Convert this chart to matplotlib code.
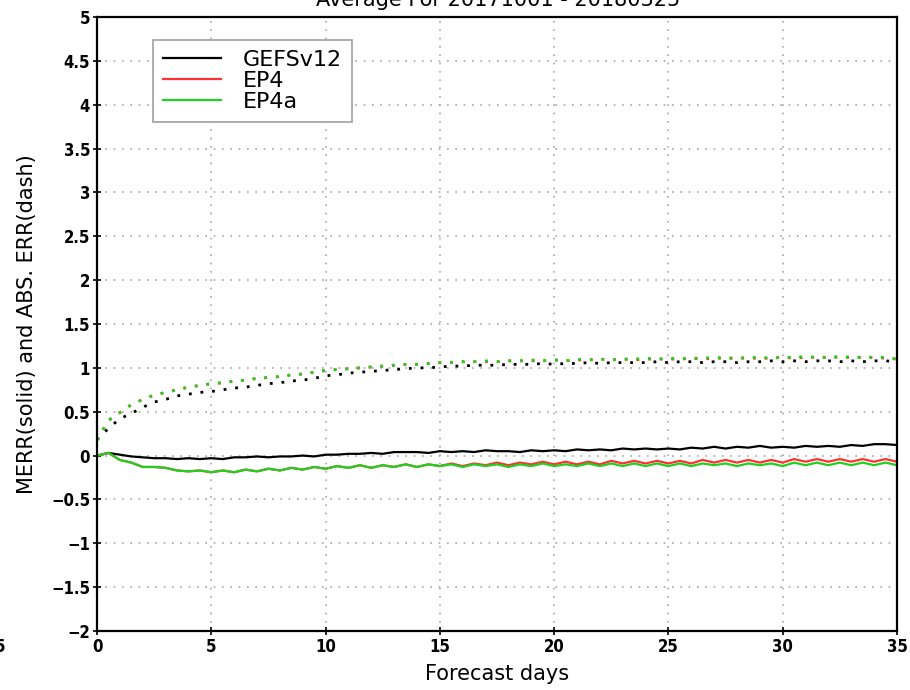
import matplotlib
matplotlib.use('Agg')
import matplotlib.pyplot as plt
import numpy as np

# forecast lead time, every 12 hours out to 35 days
days = np.arange(0, 35.01, 0.5)

# mean error (solid)
gefs_merr = [0.00, 0.03, 0.01, -0.01, -0.02, -0.03, -0.03, -0.04, -0.03, -0.04,
             -0.03, -0.04, -0.02, -0.02, -0.01, -0.02, -0.01, -0.01, 0.00, -0.01,
             0.01, 0.01, 0.02, 0.02, 0.03, 0.02, 0.04, 0.04, 0.04, 0.03,
             0.05, 0.04, 0.05, 0.04, 0.06, 0.05, 0.05, 0.04, 0.06, 0.05,
             0.06, 0.05, 0.07, 0.06, 0.07, 0.06, 0.08, 0.07, 0.08, 0.07,
             0.08, 0.07, 0.09, 0.08, 0.10, 0.08, 0.10, 0.09, 0.11, 0.09,
             0.10, 0.09, 0.11, 0.10, 0.11, 0.10, 0.12, 0.11, 0.13, 0.13,
             0.12]
ep4_merr = [0.00, 0.03, -0.05, -0.08, -0.13, -0.13, -0.14, -0.17, -0.18, -0.17,
            -0.19, -0.17, -0.19, -0.16, -0.18, -0.15, -0.17, -0.14, -0.16, -0.13,
            -0.15, -0.12, -0.14, -0.11, -0.14, -0.11, -0.13, -0.10, -0.13, -0.10,
            -0.12, -0.09, -0.12, -0.09, -0.11, -0.08, -0.11, -0.08, -0.10, -0.07,
            -0.10, -0.07, -0.10, -0.07, -0.10, -0.06, -0.09, -0.06, -0.09, -0.06,
            -0.09, -0.06, -0.09, -0.05, -0.08, -0.05, -0.08, -0.05, -0.08, -0.05,
            -0.08, -0.04, -0.07, -0.04, -0.07, -0.04, -0.07, -0.04, -0.07, -0.04,
            -0.07]
ep4a_merr = [0.00, 0.03, -0.05, -0.08, -0.13, -0.13, -0.14, -0.17, -0.18, -0.17,
             -0.19, -0.17, -0.19, -0.16, -0.18, -0.15, -0.17, -0.14, -0.16, -0.13,
             -0.15, -0.12, -0.14, -0.11, -0.14, -0.11, -0.13, -0.10, -0.13, -0.10,
             -0.12, -0.10, -0.13, -0.10, -0.12, -0.10, -0.13, -0.10, -0.12, -0.09,
             -0.12, -0.10, -0.12, -0.09, -0.12, -0.09, -0.12, -0.09, -0.12, -0.09,
             -0.12, -0.09, -0.12, -0.09, -0.11, -0.09, -0.12, -0.09, -0.11, -0.09,
             -0.12, -0.08, -0.11, -0.08, -0.11, -0.08, -0.11, -0.08, -0.11, -0.08,
             -0.11]

# absolute error (dotted)
gefs_abs = [0.18, 0.31, 0.42, 0.48, 0.55, 0.61, 0.64, 0.68, 0.70, 0.72,
            0.73, 0.75, 0.77, 0.78, 0.80, 0.82, 0.83, 0.85, 0.86, 0.88,
            0.91, 0.92, 0.94, 0.95, 0.96, 0.97, 0.98, 0.99, 1.00, 1.00,
            1.01, 1.02, 1.02, 1.03, 1.03, 1.03, 1.04, 1.04, 1.04, 1.05,
            1.04, 1.05, 1.05, 1.06, 1.05, 1.06, 1.06, 1.06, 1.06, 1.07,
            1.06, 1.07, 1.07, 1.06, 1.07, 1.07, 1.06, 1.07, 1.07, 1.08,
            1.07, 1.08, 1.07, 1.08, 1.08, 1.07, 1.08, 1.07, 1.08, 1.08,
            1.07]
ep4_abs = [0.18, 0.40, 0.49, 0.58, 0.64, 0.69, 0.72, 0.75, 0.78, 0.80,
           0.82, 0.83, 0.85, 0.86, 0.88, 0.89, 0.90, 0.92, 0.93, 0.95,
           0.97, 0.98, 0.99, 1.00, 1.01, 1.02, 1.03, 1.04, 1.04, 1.05,
           1.06, 1.06, 1.07, 1.07, 1.07, 1.07, 1.08, 1.08, 1.08, 1.08,
           1.09, 1.08, 1.09, 1.09, 1.10, 1.09, 1.10, 1.09, 1.10, 1.10,
           1.10, 1.10, 1.11, 1.10, 1.11, 1.11, 1.11, 1.11, 1.11, 1.11,
           1.12, 1.11, 1.12, 1.12, 1.12, 1.12, 1.12, 1.12, 1.12, 1.11,
           1.10]
ep4a_abs = [0.18, 0.40, 0.49, 0.58, 0.64, 0.69, 0.72, 0.75, 0.78, 0.80,
            0.82, 0.83, 0.85, 0.86, 0.88, 0.89, 0.90, 0.92, 0.93, 0.95,
            0.97, 0.98, 0.99, 1.00, 1.01, 1.02, 1.03, 1.04, 1.04, 1.05,
            1.06, 1.06, 1.07, 1.07, 1.08, 1.07, 1.08, 1.08, 1.09, 1.08,
            1.09, 1.08, 1.10, 1.09, 1.10, 1.09, 1.10, 1.10, 1.11, 1.10,
            1.11, 1.10, 1.11, 1.11, 1.12, 1.11, 1.11, 1.12, 1.12, 1.11,
            1.12, 1.12, 1.13, 1.12, 1.12, 1.13, 1.12, 1.12, 1.12, 1.12,
            1.10]

labels = ['GEFSv12', 'EP4', 'EP4a']
colors = ['black', '#ff3030', '#20d020']
tickfont = ['Liberation Sans Narrow', 'DejaVu Sans']

fig = plt.figure(figsize=(9.1, 6.9), dpi=100)
ax = fig.add_axes([0.1066, 0.0855, 0.8791, 0.8899])

solid = [gefs_merr, ep4_merr, ep4a_merr]
dotted = [gefs_abs, ep4_abs, ep4a_abs]
for i in range(3):
    ax.plot(days, solid[i], color=colors[i], lw=1.6, label=labels[i])
    ax.plot(days, dotted[i], color=colors[i], lw=2.0, linestyle=(0, (1, 3.2)))

ax.set_xlim(0, 35)
ax.set_ylim(-2, 5)
ax.set_xticks(np.arange(0, 36, 5))
ax.set_yticks(np.arange(-2, 5.01, 0.5))
ax.set_yticklabels(['\u22122', '\u22121.5', '\u22121', '\u22120.5', '0', '0.5', '1', '1.5',
                    '2', '2.5', '3', '3.5', '4', '4.5', '5'])

ax.grid(True, color='#a8a8a8', linestyle=(0, (1, 4)), lw=1.2)
for s in ax.spines.values():
    s.set_linestyle((0, (3, 1)))
    s.set_linewidth(1.6)
ax.tick_params(direction='inout', length=6, width=1.2, pad=2)
for lab in ax.get_xticklabels() + ax.get_yticklabels():
    lab.set_family(tickfont)
    lab.set_fontstretch('condensed')
    lab.set_fontweight('bold')
    lab.set_fontsize(12)

ax.set_xlabel('Forecast days', fontsize=15, labelpad=6)
ax.set_ylabel('MERR(solid) and ABS. ERR(dash)', fontsize=15, labelpad=10)

fig.text(0.547, 1 - 6 / 690, 'Average For 20171001 - 20180325', fontsize=15,
         ha='center', va='baseline')
fig.text(0.0, 1 - 652 / 690, '5', fontsize=12, fontweight='bold', ha='center',
         family=tickfont, fontstretch='condensed')

leg = ax.legend(loc='upper left', bbox_to_anchor=(0.07, 0.963), fontsize=16,
                handlelength=2.6, handletextpad=1.0, labelspacing=0.05,
                borderpad=0.45, borderaxespad=0, fancybox=False, framealpha=1,
                edgecolor='#a0a0a0')
leg.get_frame().set_linewidth(1.2)

fig.savefig('out.png', dpi=100)
